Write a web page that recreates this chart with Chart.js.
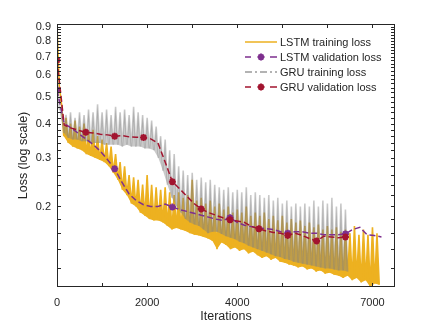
<!DOCTYPE html>
<html>
<head>
<meta charset="utf-8">
<script src="https://cdn.jsdelivr.net/npm/chart.js@4.4.0/dist/chart.umd.min.js"></script>
<style>
    html, body { margin: 0; padding: 0; background: #fff; }
</style>
</head>
<body>
<canvas id="canvas" width="436" height="327"></canvas>
<script>
// training loss: one high and one low reading per 100 iterations
const trainStep = 100;
const lstmTrainHigh = [
    0.92, 0.47, 0.42, 0.40, 0.41, 0.39, 0.40, 0.37, 0.38, 0.36,
    0.35, 0.34, 0.33, 0.31, 0.29, 0.28, 0.26, 0.255, 0.25, 0.24,
    0.26, 0.24, 0.235, 0.23, 0.235, 0.225, 0.22, 0.225, 0.215, 0.22,
    0.25, 0.21, 0.215, 0.205, 0.21, 0.20, 0.205, 0.195, 0.20, 0.19,
    0.195, 0.19, 0.20, 0.185, 0.19, 0.185, 0.19, 0.18, 0.185, 0.178,
    0.185, 0.175, 0.18, 0.175, 0.178, 0.17, 0.175, 0.168, 0.172, 0.165,
    0.17, 0.165, 0.168, 0.162, 0.165, 0.16, 0.17, 0.158, 0.165, 0.158,
    0.168, 0.16
];
const lstmTrainLow = [
    0.55, 0.36, 0.34, 0.33, 0.325, 0.32, 0.31, 0.305, 0.30, 0.295,
    0.29, 0.28, 0.265, 0.25, 0.23, 0.22, 0.205, 0.20, 0.19, 0.185,
    0.18, 0.178, 0.178, 0.175, 0.17, 0.165, 0.167, 0.165, 0.163, 0.16,
    0.158, 0.157, 0.155, 0.153, 0.15, 0.14, 0.148, 0.145, 0.14, 0.142,
    0.138, 0.14, 0.135, 0.137, 0.133, 0.13, 0.132, 0.128, 0.13, 0.126,
    0.125, 0.123, 0.122, 0.12, 0.121, 0.118, 0.119, 0.116, 0.117, 0.114,
    0.115, 0.113, 0.112, 0.11, 0.112, 0.108, 0.11, 0.106, 0.108, 0.102,
    0.105, 0.104
];
const gruTrainHigh = [
    0.62, 0.46, 0.43, 0.44, 0.42, 0.44, 0.43, 0.45, 0.44, 0.47,
    0.44, 0.45, 0.43, 0.46, 0.44, 0.45, 0.43, 0.46, 0.44, 0.43,
    0.42, 0.41, 0.39, 0.36, 0.35, 0.32, 0.31, 0.28, 0.27, 0.26,
    0.265, 0.25, 0.255, 0.245, 0.25, 0.24, 0.235, 0.23, 0.235, 0.225,
    0.23, 0.225, 0.235, 0.22, 0.225, 0.22, 0.215, 0.22, 0.21, 0.215,
    0.205, 0.21, 0.20, 0.205, 0.20, 0.205, 0.20, 0.21, 0.20, 0.21,
    0.205, 0.215, 0.20, 0.205, 0.195
];
const gruTrainLow = [
    0.45, 0.37, 0.355, 0.35, 0.35, 0.345, 0.345, 0.34, 0.34, 0.34,
    0.335, 0.335, 0.335, 0.335, 0.33, 0.335, 0.33, 0.33, 0.33, 0.325,
    0.325, 0.32, 0.30, 0.27, 0.24, 0.215, 0.20, 0.19, 0.18, 0.175,
    0.172, 0.17, 0.165, 0.16, 0.162, 0.162, 0.159, 0.156, 0.154, 0.152,
    0.149, 0.147, 0.144, 0.142, 0.14, 0.138, 0.136, 0.134, 0.132, 0.131,
    0.129, 0.128, 0.126, 0.125, 0.124, 0.123, 0.122, 0.121, 0.12, 0.119,
    0.119, 0.118, 0.117, 0.117, 0.116
];

// validation loss every 160 iterations
const valStep = 160;
const lstmVal = [
    0.53, 0.40, 0.385, 0.368, 0.352, 0.336, 0.318, 0.296, 0.274,
    0.245, 0.222, 0.210, 0.203, 0.200, 0.200, 0.204, 0.199,
    0.195, 0.192, 0.189, 0.186, 0.183, 0.180, 0.178, 0.182,
    0.175, 0.171, 0.169, 0.167, 0.166, 0.165, 0.162, 0.160,
    0.162, 0.162, 0.160, 0.160, 0.158, 0.158, 0.158, 0.159,
    0.165, 0.168, 0.158, 0.157, 0.155
];
const gruVal = [
    0.68, 0.395, 0.385, 0.378, 0.372, 0.370, 0.366, 0.364, 0.360,
    0.362, 0.358, 0.357, 0.356, 0.352, 0.340, 0.290, 0.246,
    0.232, 0.218, 0.205, 0.196, 0.190, 0.186, 0.182, 0.179,
    0.177, 0.175, 0.169, 0.166, 0.163, 0.161, 0.160, 0.157,
    0.160, 0.157, 0.153, 0.150, 0.156, 0.155, 0.154, 0.155
];

const xTicks = [0, 1000, 2000, 3000, 4000, 5000, 6000, 7000];
const xTickLabels = [0, 2000, 4000, 7000];
const yTicks = [0.12, 0.14, 0.16, 0.18, 0.2, 0.22, 0.24, 0.26, 0.28, 0.3,
    0.32, 0.34, 0.36, 0.38, 0.4, 0.42, 0.44, 0.46, 0.48, 0.5,
    0.52, 0.54, 0.56, 0.58, 0.6, 0.62, 0.64, 0.66, 0.68, 0.7,
    0.72, 0.74, 0.76, 0.78, 0.8, 0.82, 0.84, 0.86, 0.88, 0.9];
const yTickLabels = [0.2, 0.3, 0.4, 0.5, 0.6, 0.7, 0.8, 0.9];

const FONT = '"Liberation Sans", Arial, Helvetica, sans-serif';
const TEXT = '#262626';
const ORANGE = '#EDB120';
const PURPLE = '#7E2F8E';
const RED = '#A2142F';
const GRAY = 'rgba(128,128,128,0.4)';
const GRAY_FILL = 'rgba(128,128,128,0.42)';

function zigzag(high, low) {
    let pts = [];
    for (let i = 0; i < high.length; i++) {
        pts.push({x: i * trainStep, y: high[i]});
        pts.push({x: i * trainStep + trainStep / 2, y: low[i]});
    }
    return pts;
}

// the low readings alone, used as the lower edge of the noise band fill
function lowEdge(low) {
    return low.map(function (v, i) {
        return {x: i * trainStep + trainStep / 2, y: v};
    });
}

function valPoints(vals) {
    return vals.map(function (v, i) {
        return {x: i * valStep, y: v};
    });
}

function drawStar(ctx, x, y, r, color) {
    ctx.save();
    ctx.strokeStyle = color;
    ctx.lineWidth = 2;
    ctx.setLineDash([]);
    ctx.beginPath();
    for (let k = 0; k < 4; k++) {
        let a = k * Math.PI / 4;
        ctx.moveTo(x - r * Math.cos(a), y - r * Math.sin(a));
        ctx.lineTo(x + r * Math.cos(a), y + r * Math.sin(a));
    }
    ctx.stroke();
    ctx.restore();
}

// box around the plot, inward ticks on all four sides, legend
const framePlugin = {
    id: 'frame',
    afterDraw: function (chart) {
        let ctx = chart.ctx;
        let a = chart.chartArea;
        let xs = chart.scales.x, ys = chart.scales.y;
        ctx.save();
        ctx.strokeStyle = TEXT;
        ctx.lineWidth = 1;
        ctx.beginPath();
        xTicks.forEach(function (v) {
            let px = Math.round(xs.getPixelForValue(v)) + 0.5;
            ctx.moveTo(px, a.bottom); ctx.lineTo(px, a.bottom - 4);
            ctx.moveTo(px, a.top); ctx.lineTo(px, a.top + 4);
        });
        yTicks.forEach(function (v) {
            let py = Math.round(ys.getPixelForValue(v)) + 0.5;
            ctx.moveTo(a.left, py); ctx.lineTo(a.left + 4, py);
            ctx.moveTo(a.right, py); ctx.lineTo(a.right - 4, py);
        });
        ctx.stroke();
        ctx.strokeRect(a.left + 0.5, a.top + 0.5, a.right - a.left - 1, a.bottom - a.top - 1);

        // legend
        let items = [
            {label: 'LSTM training loss', color: ORANGE, dash: [], star: false},
            {label: 'LSTM validation loss', color: PURPLE, dash: [], star: true},
            {label: 'GRU training loss', color: '#9a9a9a', dash: [7, 3, 2, 3], star: false},
            {label: 'GRU validation loss', color: RED, dash: [], star: true}
        ];
        let x0 = 245, x1 = 277, y0 = 42;
        ctx.font = '11px ' + FONT;
        ctx.textBaseline = 'middle';
        ctx.textAlign = 'left';
        items.forEach(function (it, i) {
            let y = y0 + i * 15;
            ctx.strokeStyle = it.color;
            ctx.lineWidth = 1.5;
            ctx.setLineDash(it.dash);
            ctx.beginPath();
            if (it.star) {
                ctx.moveTo(x0, y); ctx.lineTo(x0 + 6, y);
                ctx.moveTo(x1 - 7, y); ctx.lineTo(x1, y);
            } else {
                ctx.moveTo(x0, y); ctx.lineTo(x1, y);
            }
            ctx.stroke();
            ctx.setLineDash([]);
            if (it.star) drawStar(ctx, (x0 + x1) / 2, y, 3.5, it.color);
            ctx.fillStyle = TEXT;
            ctx.fillText(it.label, x1 + 3, y + 0.5);
        });
        ctx.restore();
    }
};

function drawGraph() {
    let ctx = document.getElementById('canvas').getContext('2d');
    let markerRadius = function (every) {
        return function (c) { return c.dataIndex % every === 0 ? 3.5 : 0; };
    };
    let none = 'rgba(0,0,0,0)';

    new Chart(ctx, {
        type: 'line',
        data: {
            datasets: [{
                label: 'GRU validation loss',
                data: valPoints(gruVal),
                borderColor: RED,
                borderWidth: 1.5,
                borderDash: [6, 3],
                pointStyle: 'star',
                pointRadius: markerRadius(4),
                pointBorderColor: RED,
                pointBorderWidth: 2,
                fill: false,
                order: 1
            }, {
                label: 'LSTM validation loss',
                data: valPoints(lstmVal),
                borderColor: PURPLE,
                borderWidth: 1.5,
                borderDash: [6, 3],
                pointStyle: 'star',
                pointRadius: markerRadius(8),
                pointBorderColor: PURPLE,
                pointBorderWidth: 2,
                fill: false,
                order: 2
            }, {
                label: 'GRU training loss',
                data: zigzag(gruTrainHigh, gruTrainLow),
                borderColor: GRAY,
                backgroundColor: GRAY_FILL,
                borderWidth: 1.6,
                borderJoinStyle: 'bevel',
                pointRadius: 0,
                fill: 3,
                order: 3
            }, {
                label: 'GRU low edge',
                data: lowEdge(gruTrainLow),
                borderColor: none,
                borderWidth: 1,
                pointRadius: 0,
                fill: false,
                order: 3
            }, {
                label: 'LSTM training loss',
                data: zigzag(lstmTrainHigh, lstmTrainLow),
                borderColor: ORANGE,
                backgroundColor: ORANGE,
                borderWidth: 1.6,
                borderJoinStyle: 'bevel',
                pointRadius: 0,
                fill: 5,
                order: 4
            }, {
                label: 'LSTM low edge',
                data: lowEdge(lstmTrainLow),
                borderColor: none,
                borderWidth: 1,
                pointRadius: 0,
                fill: false,
                order: 4
            }]
        },
        options: {
            responsive: false,
            animation: false,
            layout: {padding: {top: 24, right: 41, left: 0, bottom: 0}},
            elements: {line: {tension: 0}},
            plugins: {
                legend: {display: false},
                tooltip: {enabled: false}
            },
            scales: {
                x: {
                    type: 'linear',
                    min: 0,
                    max: 7500,
                    afterBuildTicks: function (s) {
                        s.ticks = xTicks.map(function (v) { return {value: v}; });
                    },
                    afterFit: function (s) { s.height = 40; },
                    grid: {display: false, drawTicks: false},
                    border: {display: false},
                    ticks: {
                        autoSkip: false,
                        maxRotation: 0,
                        padding: 9,
                        color: TEXT,
                        font: {family: FONT, size: 11},
                        callback: function (v) {
                            return xTickLabels.indexOf(v) >= 0 ? String(v) : '';
                        }
                    },
                    title: {
                        display: true,
                        text: 'Iterations',
                        color: TEXT,
                        font: {family: FONT, size: 12.5},
                        padding: {top: 0, bottom: 3}
                    }
                },
                y: {
                    type: 'logarithmic',
                    min: 0.102,
                    max: 0.92,
                    afterBuildTicks: function (s) {
                        s.ticks = yTicks.map(function (v) { return {value: v}; });
                    },
                    afterFit: function (s) { s.width = 57; },
                    grid: {display: false, drawTicks: false},
                    border: {display: false},
                    ticks: {
                        autoSkip: false,
                        padding: 6,
                        color: TEXT,
                        font: {family: FONT, size: 11},
                        callback: function (v) {
                            return yTickLabels.indexOf(v) >= 0 ? v.toFixed(1) : '';
                        }
                    },
                    title: {
                        display: true,
                        text: 'Loss (log scale)',
                        color: TEXT,
                        font: {family: FONT, size: 12.5},
                        padding: {top: 16, bottom: 0}
                    }
                }
            }
        },
        plugins: [framePlugin]
    });
}
drawGraph();
</script>
</body>
</html>
